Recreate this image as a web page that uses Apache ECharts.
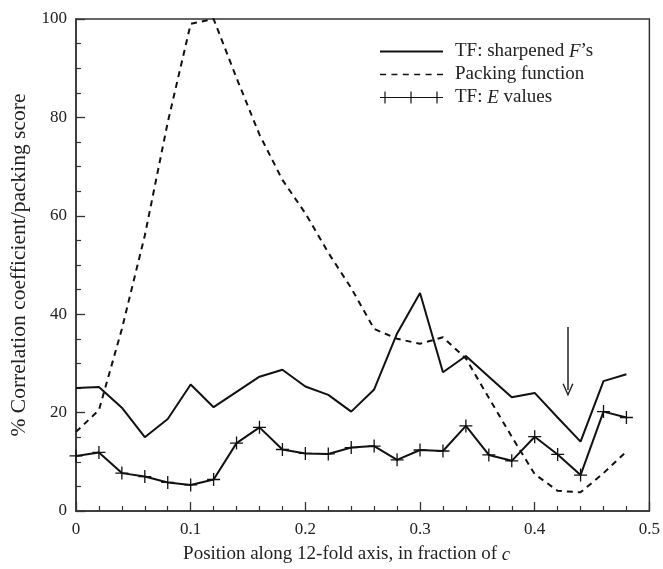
<!DOCTYPE html>
<html>
<head>
<meta charset="utf-8">
<script src="https://cdn.jsdelivr.net/npm/echarts@6/dist/echarts.min.js"></script>
<style>
  html, body { margin: 0; padding: 0; background: #fff; }
  #chart { width: 663px; height: 569px; }
</style>
</head>
<body>
<div id="chart"></div>
<script>
// positions along the 12-fold axis (fraction of c)
const positions = [0, 0.02, 0.04, 0.06, 0.08, 0.10, 0.12, 0.14, 0.16, 0.18, 0.20, 0.22, 0.24,
                   0.26, 0.28, 0.30, 0.32, 0.34, 0.36, 0.38, 0.40, 0.42, 0.44, 0.46, 0.48];

const sharpenedF = [25.0, 25.2, 21.0, 15.0, 18.7, 25.7, 21.1, 24.2, 27.3, 28.7, 25.3, 23.6, 20.2,
                    24.7, 36.1, 44.3, 28.2, 31.5, 27.3, 23.1, 24.0, 19.0, 14.1, 26.4, 27.8];

const packing = [16.1, 20.5, 37.0, 56.0, 79.0, 99.0, 100.0, 88.0, 76.5, 67.3, 60.5, 52.5, 45.3,
                 37.0, 35.0, 34.0, 35.3, 31.0, 23.0, 15.1, 7.5, 4.1, 3.8, 7.7, 12.1];

const eValues = [11.2, 11.9, 7.7, 7.0, 5.8, 5.3, 6.4, 13.8, 17.0, 12.5, 11.7, 11.6, 12.9,
                 13.2, 10.4, 12.4, 12.2, 17.3, 11.4, 10.2, 15.1, 11.5, 7.3, 20.2, 19.0];

const seriesNames = ['TF: sharpened F’s', 'Packing function', 'TF: E values'];

// arrow marking the 0.43 position: [x, yFrom, yTo]
const arrowAt = [0.429, 37.4, 24.6];

const serif = '"Liberation Serif", "DejaVu Serif", serif';
const ink = '#222';

const plusSymbol = 'path://M0,5.4 L12,5.4 L12,6.6 L0,6.6 Z M5.4,0 L6.6,0 L6.6,12 L5.4,12 Z';
const iconSolid = 'path://M0,0 L63,0 L63,1.8 L0,1.8 Z';
const iconDashed = 'path://M0,0 h6 v1.6 h-6 Z M11.4,0 h6 v1.6 h-6 Z M22.8,0 h6 v1.6 h-6 Z M34.2,0 h6 v1.6 h-6 Z M45.6,0 h6 v1.6 h-6 Z M57,0 h6 v1.6 h-6 Z';
const iconPlus = 'path://M0,6.4 L63,6.4 L63,7.6 L0,7.6 Z M4.4,1 h1.2 v12 h-1.2 Z M30.4,1 h1.2 v12 h-1.2 Z M56.4,1 h1.2 v12 h-1.2 Z M0,6.4 h11 v1.2 h-11 Z';

const pairs = arr => positions.map((x, i) => [x, arr[i]]);

const chart = echarts.init(document.getElementById('chart'), null, { renderer: 'canvas' });

const option = {
    animation: false,
    backgroundColor: '#fff',
    grid: {
        left: 76, right: 12, top: 19, bottom: 58,
        show: true,
        borderColor: '#333',
        borderWidth: 1.5,
        backgroundColor: 'transparent'
    },
    legend: {
        left: 380,
        top: 42,
        padding: 0,
        orient: 'vertical',
        itemWidth: 63,
        itemHeight: 14,
        itemGap: 4,
        selectedMode: false,
        itemStyle: { borderWidth: 0 },
        textStyle: {
            fontFamily: serif,
            fontSize: 19,
            color: ink,
            padding: [0, 0, 0, 7],
            rich: {
                i: { fontFamily: serif, fontSize: 19, fontStyle: 'italic', color: ink }
            }
        },
        formatter: name => {
            if (name === seriesNames[0]) return 'TF: sharpened {i|F}’s';
            if (name === seriesNames[2]) return 'TF: {i|E} values';
            return name;
        },
        data: [
            { name: seriesNames[0], icon: iconSolid },
            { name: seriesNames[1], icon: iconDashed },
            { name: seriesNames[2], icon: iconPlus }
        ]
    },
    xAxis: {
        type: 'value',
        min: 0,
        max: 0.5,
        interval: 0.1,
        name: 'Position along 12-fold axis, in fraction of {i|c}',
        nameLocation: 'middle',
        nameGap: 34,
        nameTextStyle: {
            fontFamily: serif,
            fontSize: 19,
            color: ink,
            padding: [0, 32, 0, 0],
            rich: { i: { fontFamily: serif, fontSize: 19, fontStyle: 'italic', color: ink } }
        },
        axisLine: { lineStyle: { color: '#333', width: 1.5 } },
        axisTick: { inside: true, length: 9, lineStyle: { color: '#333', width: 1.3 } },
        minorTick: { show: true, splitNumber: 5, length: 5, lineStyle: { color: '#333', width: 1.2 } },
        splitLine: { show: false },
        axisLabel: {
            fontFamily: serif, fontSize: 17, color: ink, margin: 10,
            showMaxLabel: true,
            formatter: v => (v === 0 ? '0' : v.toFixed(1))
        }
    },
    yAxis: {
        type: 'value',
        min: 0,
        max: 100,
        interval: 20,
        name: '% Correlation coefficient/packing score',
        nameLocation: 'middle',
        nameGap: 38,
        nameTextStyle: { fontFamily: serif, fontSize: 21.5, color: ink },
        axisLine: { lineStyle: { color: '#333', width: 1.5 } },
        axisTick: { inside: true, length: 9, lineStyle: { color: '#333', width: 1.3 } },
        minorTick: { show: true, splitNumber: 4, length: 5, lineStyle: { color: '#333', width: 1.2 } },
        splitLine: { show: false },
        axisLabel: { fontFamily: serif, fontSize: 17, color: ink, margin: 9 }
    },
    series: [
        {
            name: seriesNames[0],
            type: 'line',
            data: pairs(sharpenedF),
            symbol: 'none',
            lineStyle: { color: '#111', width: 2 },
            itemStyle: { color: '#111' },
            z: 3
        },
        {
            name: seriesNames[1],
            type: 'line',
            data: pairs(packing),
            symbol: 'none',
            lineStyle: { color: '#111', width: 2, type: [6, 5] },
            itemStyle: { color: '#111' },
            z: 2,
            markLine: {
                silent: true,
                symbol: ['none', 'path://M5,0 L10,11 L8.8,11.5 L5,3 L1.2,11.5 L0,11 Z'],
                symbolSize: [11, 13],
                label: { show: false },
                lineStyle: { color: '#222', width: 1.5, type: 'solid' },
                data: [[
                    { coord: [arrowAt[0], arrowAt[1]] },
                    { coord: [arrowAt[0], arrowAt[2]] }
                ]]
            }
        },
        {
            name: seriesNames[2],
            type: 'line',
            data: pairs(eValues),
            symbol: plusSymbol,
            symbolSize: 13,
            showAllSymbol: true,
            lineStyle: { color: '#111', width: 2 },
            itemStyle: { color: '#111' },
            z: 4
        }
    ]
};

chart.setOption(option);
</script>
</body>
</html>
